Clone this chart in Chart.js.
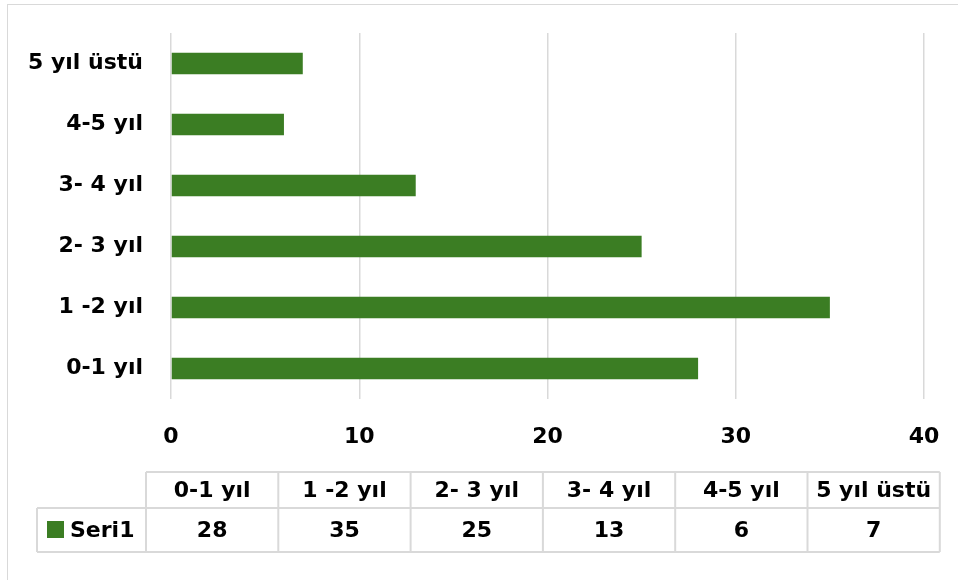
<!DOCTYPE html>
<html>
<head>
<meta charset="utf-8">
<script src="https://cdn.jsdelivr.net/npm/chart.js@4.4.1/dist/chart.umd.min.js"></script>
<style>
  html, body { margin: 0; padding: 0; background: #fff; }
  #wrap { width: 958px; height: 580px; position: relative; }
</style>
</head>
<body>
<div id="wrap"><canvas id="chart" width="958" height="580"></canvas></div>
<script>
// Veriler
const categories = ["0-1 yıl", "1 -2 yıl", "2- 3 yıl", "3- 4 yıl", "4-5 yıl", "5 yıl üstü"];
const seriesName = "Seri1";
const seriesValues = [28, 35, 25, 13, 6, 7];
const xTicks = [0, 10, 20, 30, 40];

const BAR_COLOR = "#3B7D23";
const GRID_COLOR = "#d9d9d9";
const FONT = "'DejaVu Sans', sans-serif";

// Çerçeve
const framePlugin = {
  id: "frame",
  beforeDraw(chart) {
    const ctx = chart.ctx;
    ctx.save();
    ctx.strokeStyle = GRID_COLOR;
    ctx.lineWidth = 1;
    ctx.strokeRect(7.5, 4.5, 1200, 1200);
    ctx.restore();
  }
};

// Veri tablosu (grafiğin altında)
const tablePlugin = {
  id: "dataTable",
  afterDraw(chart) {
    const ctx = chart.ctx;
    const colLeft = 146, colW = 132.3;
    const labelLeft = 37;
    const top = 472, mid = 508, bottom = 552;
    const right = colLeft + colW * categories.length;

    ctx.save();
    ctx.strokeStyle = GRID_COLOR;
    ctx.lineWidth = 2;
    ctx.beginPath();
    // yatay çizgiler
    ctx.moveTo(colLeft, top); ctx.lineTo(right, top);
    ctx.moveTo(labelLeft, mid); ctx.lineTo(right, mid);
    ctx.moveTo(labelLeft, bottom); ctx.lineTo(right, bottom);
    // dikey çizgiler
    ctx.moveTo(labelLeft, mid); ctx.lineTo(labelLeft, bottom);
    for (let i = 0; i <= categories.length; i++) {
      const x = colLeft + colW * i;
      ctx.moveTo(x, top); ctx.lineTo(x, bottom);
    }
    ctx.stroke();

    ctx.fillStyle = "#000";
    ctx.font = "bold 22px " + FONT;
    ctx.textAlign = "center";
    ctx.textBaseline = "middle";
    categories.forEach((c, i) => {
      const cx = colLeft + colW * (i + 0.5);
      ctx.fillText(c, cx, (top + mid) / 2 + 1);
      ctx.fillText(String(seriesValues[i]), cx, (mid + bottom) / 2 + 1);
    });

    // seri anahtarı
    ctx.fillStyle = BAR_COLOR;
    ctx.fillRect(47, 521, 17, 17);
    ctx.fillStyle = "#000";
    ctx.textAlign = "left";
    ctx.fillText(seriesName, 70, (mid + bottom) / 2 + 1);
    ctx.restore();
  }
};

new Chart(document.getElementById("chart"), {
  type: "bar",
  data: {
    labels: categories,
    datasets: [{
      label: seriesName,
      data: seriesValues,
      backgroundColor: BAR_COLOR,
      borderWidth: 0,
      barPercentage: 0.35,
      categoryPercentage: 1.0
    }]
  },
  options: {
    indexAxis: "y",
    responsive: false,
    animation: false,
    layout: { padding: { top: 33, right: 34, left: 0, bottom: 108 } },
    plugins: { legend: { display: false }, tooltip: { enabled: false } },
    scales: {
      x: {
        min: 0,
        max: 40,
        afterBuildTicks: (scale) => { scale.ticks = xTicks.map(v => ({ value: v })); },
        afterFit: (scale) => {
          scale.height = 73;
          scale.paddingLeft = 0;
          scale.paddingRight = 0;
        },
        grid: { color: GRID_COLOR, lineWidth: 1.5, drawTicks: false },
        border: { display: false },
        ticks: { color: "#000", padding: 25, font: { family: FONT, size: 22, weight: "bold" } }
      },
      y: {
        reverse: true,
        afterFit: (scale) => {
          scale.width = 171;
          scale.paddingTop = 0;
          scale.paddingBottom = 0;
        },
        grid: { display: false, drawTicks: false },
        border: { display: false },
        ticks: { color: "#000", padding: 28, font: { family: FONT, size: 22, weight: "bold" } }
      }
    }
  },
  plugins: [framePlugin, tablePlugin]
});
</script>
</body>
</html>
